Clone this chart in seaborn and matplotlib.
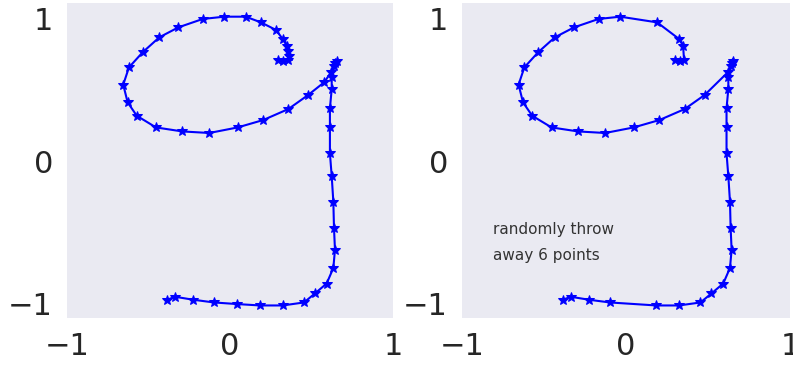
import numpy as np
import pandas as pd
import matplotlib
matplotlib.use("Agg")
import matplotlib.pyplot as plt
import seaborn as sns

# Full stroke of the handwritten "g" (in drawing order)
x_full = [0.296, 0.327, 0.354, 0.360, 0.358, 0.348, 0.323, 0.282, 0.190, 0.096,
          -0.035, -0.167, -0.317, -0.434, -0.536, -0.620, -0.655, -0.628, -0.572, -0.454,
          -0.293, -0.127, 0.047, 0.204, 0.358, 0.480, 0.577, 0.620, 0.638, 0.655,
          0.647, 0.624, 0.624, 0.613, 0.613, 0.613, 0.624, 0.634, 0.638, 0.644,
          0.634, 0.593, 0.521, 0.454, 0.323, 0.184, 0.041, -0.098, -0.225, -0.337,
          -0.385]
y_full = [0.710, 0.705, 0.710, 0.740, 0.771, 0.811, 0.858, 0.921, 0.974, 1.014,
          1.014, 0.998, 0.939, 0.869, 0.764, 0.658, 0.537, 0.413, 0.319, 0.237,
          0.209, 0.198, 0.237, 0.289, 0.366, 0.465, 0.553, 0.623, 0.665, 0.705,
          0.691, 0.588, 0.507, 0.371, 0.237, 0.055, -0.105, -0.284, -0.469, -0.621,
          -0.749, -0.858, -0.928, -0.991, -1.012, -1.012, -1.002, -0.991, -0.972, -0.951,
          -0.972]

# Indices of the 6 points thrown away in the right panel
dropped = [3, 4, 7, 9, 26, 46]

ticks = [-1, 0, 1]
tick_labels = ["\u22121", "0", "1"]
annotation = "randomly throw\naway 6 points"

df_full = pd.DataFrame({"x": x_full, "y": y_full})
df_part = df_full.drop(index=dropped).reset_index(drop=True)

sns.set_style("dark")
plt.rcParams["font.family"] = ["DejaVu Sans"]

fig = plt.figure(figsize=(7.93, 3.65), dpi=100)
ax1 = fig.add_axes([67 / 793, 47 / 365, 326 / 793, 315 / 365])
ax2 = fig.add_axes([462 / 793, 47 / 365, 328 / 793, 315 / 365])

for ax, df in ((ax1, df_full), (ax2, df_part)):
    sns.lineplot(data=df, x="x", y="y", sort=False, estimator=None, ax=ax,
                 color="blue", marker="*", markersize=7.5, markeredgecolor="blue",
                 linewidth=1.5)
    ax.set_xlim(-1, 1)
    ax.set_ylim(-1.1, 1.11)
    ax.set_xticks(ticks)
    ax.set_xticklabels(tick_labels)
    ax.set_yticks(ticks)
    ax.set_yticklabels(tick_labels)
    ax.tick_params(axis="both", labelsize=22, pad=10, length=0, colors=".15")
    ax.set_xlabel("")
    ax.set_ylabel("")
    for s in ax.spines.values():
        s.set_visible(False)

ax2.text(-0.81, -0.57, annotation, fontsize=11, color=".2",
         ha="left", va="center", linespacing=1.95)

fig.savefig("out.png", dpi=100)
